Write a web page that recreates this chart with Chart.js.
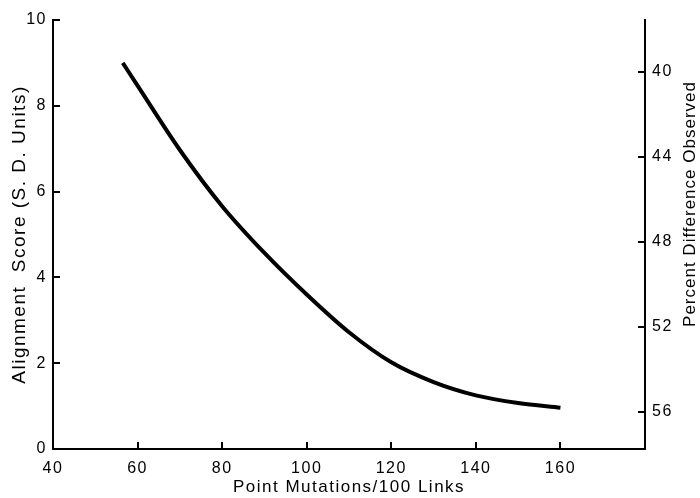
<!DOCTYPE html>
<html>
<head>
<meta charset="utf-8">
<script src="https://cdn.jsdelivr.net/npm/chart.js@4.4.1/dist/chart.umd.min.js"></script>
<style>
  html, body { margin: 0; padding: 0; background: #fff; }
  #wrap { width: 700px; height: 498px; position: relative; }
</style>
</head>
<body>
<div id="wrap"><canvas id="c" width="700" height="498"></canvas></div>
<script>
// ---- data ----
const mutations = [56.5, 60, 70, 80, 90, 100, 110, 120, 130, 140, 150, 160];
const alignmentScore = [9.0, 8.47, 6.97, 5.66, 4.57, 3.6, 2.72, 2.02, 1.56, 1.25, 1.07, 0.96];
const xTickValues = [40, 60, 80, 100, 120, 140, 160];
const leftTickValues = [0, 2, 4, 6, 8, 10];
const rightTickValues = [40, 44, 48, 52, 56];
const xTitle = 'Point Mutations/100 Links';
const leftTitle = 'Alignment  Score (S. D. Units)';
const rightTitle = 'Percent Difference Observed';

const FONT = "'Liberation Sans', Arial, sans-serif";

const points = mutations.map((m, i) => ({ x: m, y: alignmentScore[i] }));

const textStyle = {
  id: 'textStyle',
  beforeDraw(chart) { chart.ctx.letterSpacing = '1.5px'; },
  afterDraw(chart) {
    const { ctx, chartArea: a, scales } = chart;
    ctx.save();
    ctx.strokeStyle = '#000';
    ctx.lineWidth = 2;
    ctx.beginPath();
    // inward tick marks
    scales.y.ticks.forEach(t => {
      if (t.value === 0) return;
      const py = Math.round(scales.y.getPixelForValue(t.value));
      ctx.moveTo(a.left, py); ctx.lineTo(a.left + 7, py);
    });
    scales.x.ticks.forEach(t => {
      if (t.value === 40 || xTickValues.indexOf(t.value) < 0) return;
      const px = Math.round(scales.x.getPixelForValue(t.value));
      ctx.moveTo(px, a.bottom); ctx.lineTo(px, a.bottom - 7);
    });
    scales.y2.ticks.forEach(t => {
      const py = Math.round(scales.y2.getPixelForValue(t.value));
      ctx.moveTo(a.right, py); ctx.lineTo(a.right - 7, py);
    });
    ctx.stroke();
    // right axis title (reads bottom to top)
    ctx.letterSpacing = '1px';
    ctx.fillStyle = '#000';
    ctx.font = '17px ' + FONT;
    ctx.textAlign = 'center';
    ctx.textBaseline = 'middle';
    ctx.translate(690, 204);
    ctx.rotate(-Math.PI / 2);
    ctx.fillText(rightTitle, 0, 0);
    ctx.restore();
  }
};

new Chart(document.getElementById('c'), {
  type: 'line',
  data: {
    datasets: [{
      data: points,
      borderColor: '#000',
      borderWidth: 4,
      pointRadius: 0,
      fill: false,
      cubicInterpolationMode: 'monotone',
      yAxisID: 'y'
    }]
  },
  plugins: [textStyle],
  options: {
    responsive: false,
    animation: false,
    events: [],
    layout: { padding: { top: 20, left: 0, right: 0, bottom: 0 } },
    plugins: { legend: { display: false }, tooltip: { enabled: false } },
    scales: {
      x: {
        type: 'linear',
        min: 40, max: 180,
        afterBuildTicks: s => { s.ticks = xTickValues.map(v => ({ value: v })); },
        afterFit: s => { s.height = 49; },
        grid: { display: true, drawOnChartArea: false, drawTicks: false },
        border: { display: true, color: '#000', width: 2 },
        ticks: { color: '#000', font: { size: 16, family: FONT }, padding: 10, maxRotation: 0, autoSkip: false },
        title: { display: true, text: xTitle, color: '#000', font: { size: 17, family: FONT }, padding: { top: 0, bottom: 0 } }
      },
      y: {
        position: 'left',
        min: 0, max: 10,
        afterBuildTicks: s => { s.ticks = leftTickValues.map(v => ({ value: v })); },
        afterFit: s => { s.width = 53; },
        grid: { display: true, drawOnChartArea: false, drawTicks: false },
        border: { display: true, color: '#000', width: 2 },
        ticks: { color: '#000', font: { size: 16, family: FONT }, padding: 6 },
        title: { display: true, text: leftTitle, color: '#000', font: { size: 19, family: FONT }, padding: { top: 8, bottom: 0 } }
      },
      y2: {
        position: 'right',
        reverse: true,
        min: 37.55, max: 57.75,
        afterBuildTicks: s => { s.ticks = rightTickValues.map(v => ({ value: v })); },
        afterFit: s => { s.width = 55; },
        grid: { display: true, drawOnChartArea: false, drawTicks: false },
        border: { display: true, color: '#000', width: 2 },
        ticks: { color: '#000', font: { size: 16, family: FONT }, padding: 7 }
      }
    }
  }
});
</script>
</body>
</html>
